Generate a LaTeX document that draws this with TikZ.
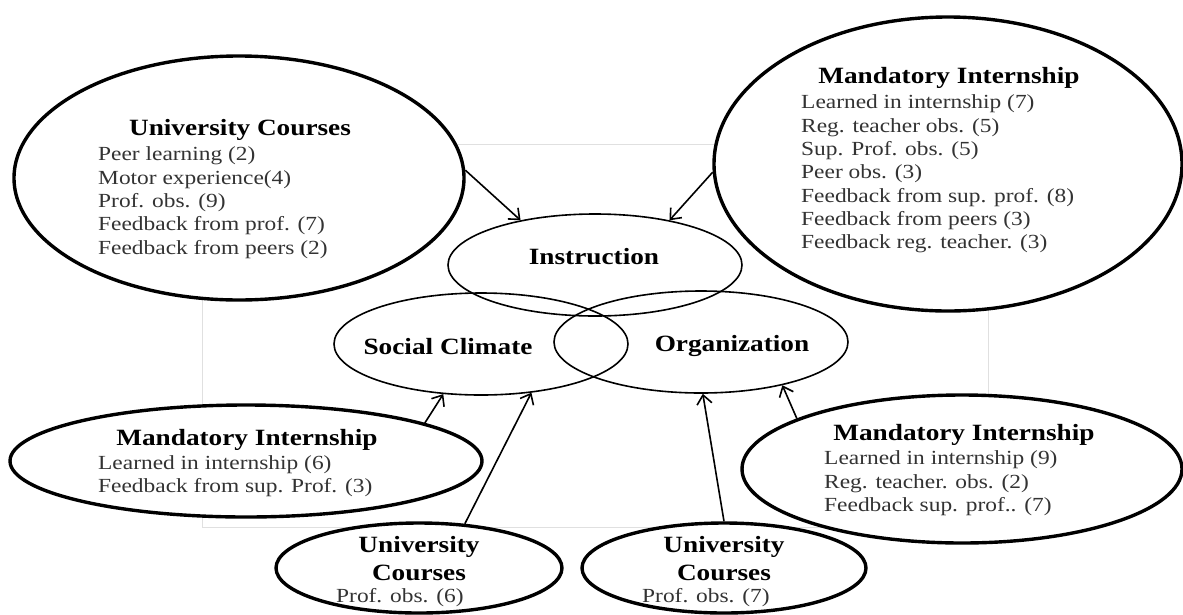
\documentclass[tikz,border=0pt]{standalone}
\usepackage{fontspec}
\setmainfont{Liberation Serif}[FakeStretch=1.17]
\usetikzlibrary{shapes.geometric,arrows.meta}

\begin{document}
\begin{tikzpicture}[x=1pt, y=-1pt,
    facet/.style={draw, ellipse, line width=1.6pt, inner sep=0pt, minimum width=294pt, minimum height=102pt},
    source/.style={draw, ellipse, fill=white, line width=3.4pt, inner sep=0pt},
    head/.style={inner sep=0pt, align=center, font=\fontsize{23.3}{28}\selectfont\bfseries},
    item/.style={anchor=west, inner sep=0pt, text=black!80, font=\fontsize{20}{23.3}\selectfont},
    link/.style={-{Straight Barb[length=9pt,width=15pt]}, line width=1.6pt}]
    \useasboundingbox (0,0) rectangle (1183,614);

    % Frame behind the dimensions
    \draw[black!12, line width=0.8pt] (202,144) rectangle (988,527);

    % University courses (top left)
    \node[source, minimum width=450pt, minimum height=244pt] (uctop) at (239,178) {};
    \node[head] (uctop-t) at (240,130) {University Courses};
    \foreach \t [count=\i from 0] in {Peer learning (2), Motor experience(4), Prof. obs. (9),
        Feedback  from prof. (7), Feedback  from peers (2)}
        \node[item] (uctop-\i) at (98,156+23.3*\i) {\t};

    % Mandatory internship (top right)
    \node[source, minimum width=468pt, minimum height=294pt] (mitop) at (948,164) {};
    \node[head] (mitop-t) at (949,78) {Mandatory  Internship};
    \foreach \t [count=\i from 0] in {Learned  in internship (7), Reg.  teacher obs. (5),
        Sup. Prof. obs. (5), Peer obs. (3), Feedback  from sup. prof. (8),
        Feedback  from peers (3), Feedback  reg.  teacher. (3)}
        \node[item] (mitop-\i) at (801,104+23.3*\i) {\t};

    % Mandatory internship (bottom left)
    \node[source, minimum width=472pt, minimum height=112pt] (mileft) at (246,461) {};
    \node[head] (mileft-t) at (247,440) {Mandatory  Internship};
    \node[item] (mileft-0) at (98,465) {Learned  in internship (6)};
    \node[item] (mileft-1) at (98,488) {Feedback  from sup. Prof. (3)};

    % Mandatory internship (bottom right)
    \node[source, minimum width=440pt, minimum height=148pt] (miright) at (962,469) {};
    \node[head] (miright-t) at (964,435) {Mandatory  Internship};
    \foreach \t [count=\i from 0] in {Learned  in internship (9), Reg.  teacher.  obs. (2),
        Feedback  sup.  prof.. (7)}
        \node[item] (miright-\i) at (824,460+23.5*\i) {\t};

    % University courses (bottom)
    \node[source, minimum width=286pt, minimum height=90pt] (ucleft) at (419,568) {};
    \node[head] (ucleft-t) at (419,559) {University\\Courses};
    \node[item] (ucleft-0) at (336,598) {Prof. obs. (6)};

    \node[source, minimum width=284pt, minimum height=90pt] (ucmid) at (724,568) {};
    \node[head] (ucmid-t) at (724,559) {University\\Courses};
    \node[item] (ucmid-0) at (642,598) {Prof. obs. (7)};

    % Three dimensions
    \node[facet] (instr) at (595,265) {};
    \node[facet] (social) at (481,344) {};
    \node[facet] (org) at (701,342) {};
    \node[head] (instr-t) at (594,257) {Instruction};
    \node[head] (social-t) at (448,347) {Social Climate};
    \node[head] (org-t) at (732,346) {Organization};

    % Arrows into the dimensions
    \draw[link] (uctop.2) -- (instr.149);
    \draw[link] (mitop.182) -- (instr.31);
    \draw[link] (mileft.12) -- (social.233);
    \draw[link] (ucleft.44) -- (social.316);
    \draw[link] (ucmid.90) -- (org.272);
    \draw[link] (miright.163) -- (org.332);
\end{tikzpicture}
\end{document}
